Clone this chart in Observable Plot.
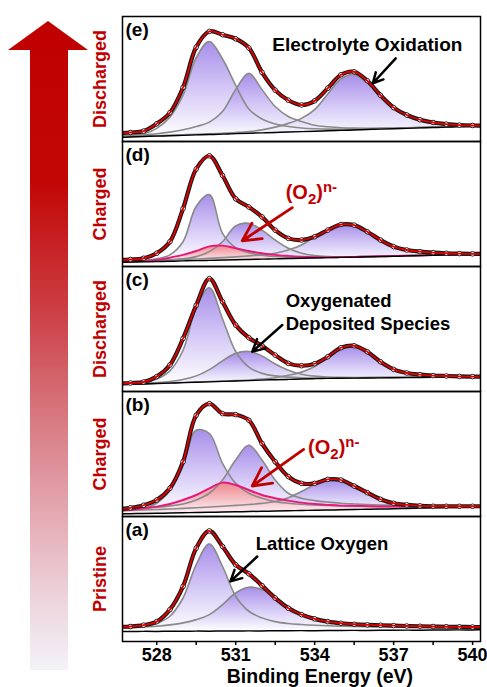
<!DOCTYPE html>
<html><head><meta charset="utf-8">
<script src="https://cdn.jsdelivr.net/npm/d3@7"></script>
<script src="https://cdn.jsdelivr.net/npm/@observablehq/plot@0.6"></script>
<style>
html,body{margin:0;padding:0;background:#fff;}
#wrap{position:relative;width:487px;height:687px;overflow:hidden;}
#arrow{position:absolute;left:0;top:0;}
</style></head><body>
<svg width="0" height="0" style="position:absolute">
 <defs>
  <linearGradient id="gPurple" x1="0" y1="0" x2="0" y2="1">
   <stop offset="0" stop-color="#8a68e2"/>
   <stop offset="0.5" stop-color="#c6b6f3"/>
   <stop offset="1" stop-color="#ffffff"/>
  </linearGradient>
  <linearGradient id="gPink" x1="0" y1="0" x2="0" y2="1">
   <stop offset="0" stop-color="#f37a74"/>
   <stop offset="0.6" stop-color="#f8c0c4"/>
   <stop offset="1" stop-color="#fff0f4"/>
  </linearGradient>
 </defs>
</svg>
<div id="wrap">
<svg id="arrow" width="100" height="687">
 <defs>
  <linearGradient id="gArrow" gradientUnits="userSpaceOnUse" x1="0" y1="20" x2="0" y2="672">
   <stop offset="0" stop-color="#c00000"/>
   <stop offset="0.25" stop-color="#c20606"/>
   <stop offset="0.45" stop-color="#cc4046"/>
   <stop offset="0.62" stop-color="#d97c84"/>
   <stop offset="0.78" stop-color="#e6b0ba"/>
   <stop offset="0.9" stop-color="#eed8e0"/>
   <stop offset="1" stop-color="#f4f3f9"/>
  </linearGradient>
 </defs>
 <polygon points="48,21 88,50 68,50 68,670 30,670 30,50 8,50" fill="url(#gArrow)"/>
</svg>
</div>
<script>
// ---- data (binding energy grid in eV) ----
const energy = [526.5,527,527.5,528,528.5,529,529.5,530,530.5,531,531.5,532,532.5,533,533.5,534,534.5,535,535.5,536,536.5,537,537.5,538,538.5,539,539.5,540,540.5];
const panels = ["e","d","c","b","a"];
const panelTags = ["(e)","(d)","(c)","(b)","(a)"];
const stateLabels = ["Discharged","Charged","Discharged","Charged","Pristine"];
const majorTicks = [528,531,534,537,540];
const allTicks = [528,529.5,531,532.5,534,535.5,537,538.5,540];

// panel (e) discharged
const measuredE = [6.4,7.2,8.3,14.2,23.0,43.2,75.5,88.1,85.4,82.2,74.9,55.3,41.1,33.0,29.2,32.5,42.7,53.4,55.8,48.6,37.0,27.1,21.2,17.4,15.2,13.9,13.1,12.8,12.8];
const backgroundE = [3.3,3.6,4.0,4.3,4.6,4.9,5.3,5.6,5.9,6.3,6.6,6.9,7.2,7.6,7.9,8.2,8.6,8.9,9.2,9.6,9.9,10.2,10.5,10.9,11.2,11.5,11.9,12.2,12.5];
const peakE1 = [4.3,4.8,6.0,10.5,19.5,37.0,67.0,80.0,66.0,45.0,26.0,18.0,14.0,12.0,10.8,10.2,9.9,9.8,9.9,10.1,10.4,10.6,10.9,11.2,11.5,11.8,12.1,12.4,12.7];
const peakE2 = [4.6,4.9,5.4,6.2,7.5,9.4,12.0,15.5,24.0,41.5,54.5,41.5,28.0,20.0,16.0,13.0,11.8,11.0,10.7,10.6,10.7,10.8,11.0,11.3,11.5,11.8,12.1,12.4,12.7];
const peakE3 = [3.8,4.1,4.4,4.7,5.0,5.3,5.7,6.1,6.6,7.2,8.0,9.3,11.5,14.5,18.5,25.5,38.0,50.0,53.5,47.0,35.7,26.1,20.3,16.7,14.6,13.3,12.7,12.4,12.5];

// panel (d) charged
const measuredD = [5.3,5.6,6.6,10.6,19.8,46.3,78.0,88.6,72.8,54.2,47.6,39.7,29.1,22.5,21.2,23.8,29.1,33.6,33.1,27.8,21.2,15.9,13.2,11.9,11.1,10.6,10.3,10.1,10.1];
const backgroundD = [3.3,3.5,3.8,4.0,4.2,4.5,4.7,4.9,5.2,5.4,5.6,5.9,6.1,6.4,6.6,6.8,7.1,7.3,7.5,7.8,8.0,8.2,8.5,8.7,9.0,9.2,9.4,9.7,9.9];
const peakD1 = [3.7,4.0,4.5,6.1,9.3,19.8,48.0,57.5,26.5,15.0,11.0,9.0,8.0,7.5,7.3,7.3,7.5,7.6,7.8,8.1,8.3,8.5,8.8,9.0,9.3,9.5,9.7,10.0,10.2];
const peakD2 = [3.8,4.1,4.5,5.0,5.5,6.1,7.9,11.9,19.8,32.5,34.5,29.1,21.2,14.6,10.6,8.7,7.9,7.7,7.8,8.0,8.2,8.4,8.6,8.9,9.1,9.3,9.6,9.8,10.0];
const superoxideD = [3.7,4.0,4.5,5.3,7.1,9.3,12.4,16.1,16.7,14.6,12.4,10.6,9.3,8.5,7.9,7.5,7.4,7.5,7.6,7.9,8.1,8.3,8.6,8.8,9.1,9.3,9.5,9.8,10.0];
const peakD4 = [3.7,4.0,4.4,4.8,5.2,5.6,6.0,6.5,7.1,7.7,8.5,9.3,10.6,13.2,17.2,23.8,29.9,33.3,32.5,27.2,20.6,15.6,13.0,11.6,10.8,10.3,10.1,10.1,10.1];

// panel (c) discharged
const measuredC = [6.3,6.8,7.6,11.9,21.2,42.4,69.0,90.3,71.8,53.1,43.0,36.6,29.1,22.5,20.6,22.2,27.8,35.0,36.6,31.8,23.8,17.7,14.8,13.5,12.7,12.4,12.1,11.9,11.9];
const backgroundC = [5.4,5.7,6.0,6.4,6.7,7.1,7.4,7.7,8.1,8.4,8.7,9.1,9.4,9.7,10.0,10.3,10.5,10.6,10.7,10.8,10.9,11.0,11.1,11.2,11.3,11.4,11.5,11.6,11.7];
const peakC1 = [6.2,6.6,7.6,10.0,16.5,33.0,67.0,83.0,58.0,32.0,19.5,14.5,12.5,11.5,11.0,10.8,10.8,10.9,11.0,11.1,11.2,11.3,11.4,11.5,11.6,11.7,11.8,11.9,12.0];
const peakC2 = [5.8,6.1,6.5,7.1,8.0,9.6,12.5,17.5,24.5,30.5,32.0,28.5,22.0,17.0,13.8,12.3,11.6,11.3,11.2,11.2,11.3,11.4,11.5,11.6,11.7,11.8,11.9,12.0,12.1];
const peakC3 = [5.8,6.0,6.3,6.6,6.9,7.2,7.6,8.0,8.3,8.7,9.2,10.0,11.0,13.0,15.5,20.0,27.5,34.0,35.5,30.5,23.0,17.0,14.2,12.9,12.2,11.9,11.8,11.8,11.9];

// panel (b) charged
const measuredB = [5.8,6.9,9.0,13.2,22.5,43.8,81.0,90.3,82.3,81.5,77.0,58.4,43.8,31.9,26.5,26.5,29.7,29.2,24.4,19.1,13.8,10.6,9.3,8.5,8.2,8.2,8.2,8.2,8.2];
const backgroundB = [2.0,2.2,2.4,2.6,2.8,3.0,3.2,3.4,3.6,3.8,4.0,4.2,4.4,4.6,4.8,5.0,5.2,5.4,5.6,5.8,6.0,6.2,6.4,6.7,6.9,7.1,7.3,7.5,7.7];
const peakB1 = [5.0,5.3,6.6,10.6,21.2,42.5,69.0,66.4,42.5,26.5,18.6,14.6,11.9,10.6,9.8,9.2,8.8,8.5,8.3,8.2,8.1,8.0,8.0,8.0,8.0,8.0,8.0,8.0,8.0];
const peakB2 = [5.6,6.0,6.6,7.4,8.5,10.0,13.2,18.6,29.2,45.2,57.0,45.2,29.2,18.6,14.6,12.7,11.5,10.6,10.0,9.5,9.2,9.0,8.8,8.7,8.6,8.5,8.4,8.4,8.3];
const superoxideB = [4.7,5.3,6.6,7.9,10.0,13.2,17.2,22.5,27.1,25.2,21.2,17.2,14.6,12.7,11.1,10.0,9.3,8.7,8.5,8.2,8.0,8.0,8.0,8.0,8.0,8.0,8.0,8.0,8.0];
const peakB4 = [4.5,4.8,5.2,5.6,6.0,6.5,7.0,7.6,8.2,8.9,9.6,10.5,12.0,15.0,20.0,25.5,29.0,28.0,23.3,18.0,13.2,10.6,9.3,8.5,8.2,8.1,8.0,8.0,8.0];

// panel (a) pristine
const measuredA = [11.8,12.0,13.1,15.9,25.5,44.1,74.7,88.5,76.0,61.4,54.2,44.7,34.8,26.6,21.5,18.1,15.9,14.6,13.8,13.3,13.0,12.7,12.4,12.2,12.0,11.8,11.7,11.6,11.6];
const backgroundA = [8.0,8.0,8.1,8.1,8.2,8.2,8.3,8.3,8.4,8.4,8.5,8.5,8.6,8.6,8.7,8.7,8.8,8.8,8.9,8.9,9.0,9.0,9.1,9.1,9.2,9.2,9.3,9.3,9.4];
const peakA1 = [11.0,11.3,12.0,14.4,20.2,34.8,61.4,78.0,60.0,36.2,24.2,18.9,15.9,14.4,13.6,13.0,12.6,12.3,12.1,11.9,11.8,11.7,11.6,11.5,11.4,11.4,11.3,11.3,11.3];
const peakA2 = [11.0,11.2,11.7,12.2,13.3,14.9,17.5,21.5,29.5,38.8,43.4,41.5,35.6,28.2,22.3,18.6,16.2,14.9,14.1,13.6,13.2,12.6,12.3,12.0,11.8,11.6,11.5,11.4,11.4];

// annotations (x in eV, y in panel intensity units)
const centeredNotes = [
  {panel:"e", E:536.0, v:77, text:"Electrolyte Oxidation"}
];
const leftNotes = [
  {panel:"c", E:532.9, v:64, text:"Oxygenated\nDeposited Species"},
  {panel:"a", E:531.76, v:79, text:"Lattice Oxygen"}
];
const redNotes = [
  {panel:"d", E:532.9, v:59, text:"(O2)n-"},
  {panel:"b", E:533.75, v:55.5, text:"(O2)n-"}
];
const pointers = [
  {panel:"e", E1:537.08, v1:66.5, E2:536.21, v2:46.6, red:false},
  {panel:"d", E1:533.15, v1:47.1, E2:531.25, v2:20.6, red:true},
  {panel:"c", E1:532.77, v1:53.2, E2:531.63, v2:31.9, red:false},
  {panel:"b", E1:533.58, v1:53.7, E2:531.63, v2:24.4, red:true},
  {panel:"a", E1:531.82, v1:68, E2:530.8, v2:48.1, red:false}
];
const axisTitle = [{panel:"a", E:534.2, label:"Binding Energy (eV)"}];

// ---- build tables ----
const measured = {e:measuredE, d:measuredD, c:measuredC, b:measuredB, a:measuredA};
const background = {e:backgroundE, d:backgroundD, c:backgroundC, b:backgroundB, a:backgroundA};
const components = [
  {panel:"e", id:"e1", vals:peakE1, pink:false},
  {panel:"e", id:"e2", vals:peakE2, pink:false},
  {panel:"e", id:"e3", vals:peakE3, pink:false},
  {panel:"d", id:"d1", vals:peakD1, pink:false},
  {panel:"d", id:"d2", vals:peakD2, pink:false},
  {panel:"d", id:"d4", vals:peakD4, pink:false},
  {panel:"d", id:"dO", vals:superoxideD, pink:true},
  {panel:"c", id:"c1", vals:peakC1, pink:false},
  {panel:"c", id:"c2", vals:peakC2, pink:false},
  {panel:"c", id:"c3", vals:peakC3, pink:false},
  {panel:"b", id:"b1", vals:peakB1, pink:false},
  {panel:"b", id:"b2", vals:peakB2, pink:false},
  {panel:"b", id:"b4", vals:peakB4, pink:false},
  {panel:"b", id:"bO", vals:superoxideB, pink:true},
  {panel:"a", id:"a1", vals:peakA1, pink:false},
  {panel:"a", id:"a2", vals:peakA2, pink:false}
];
const compRows = [];
components.forEach(c => c.vals.forEach((v,i) => compRows.push({panel:c.panel, id:c.id, pink:c.pink, E:energy[i], v, bg:background[c.panel][i]})));
const purpleRows = compRows.filter(d => !d.pink);
const pinkRows = compRows.filter(d => d.pink);
const measRows = [], bgRows = [];
panels.forEach(p => {
  measured[p].forEach((v,i) => measRows.push({panel:p, E:energy[i], v}));
  background[p].forEach((v,i) => bgRows.push({panel:p, E:energy[i], v}));
});
const tagRows = panels.map((p,i) => ({panel:p, tag:panelTags[i], state:stateLabels[i]}));

const RED = "#c00000";
const curve = "catmull-rom";
const font = "'Liberation Sans', Arial, Helvetica, sans-serif";

const chart = Plot.plot({
  width: 487, height: 687,
  marginLeft: 122, marginRight: 7, marginTop: 15, marginBottom: 45,
  style: {fontFamily: font, background: "transparent", overflow: "visible"},
  x: {domain: [526.7, 540.3], axis: null},
  y: {domain: [0, 100], axis: null},
  fy: {domain: panels, axis: null, padding: 0},
  marks: [
    Plot.areaY(purpleRows, {x:"E", y1:"bg", y2:"v", z:"id", fy:"panel", fill:"url(#gPurple)", fillOpacity:0.75, curve, clip:true}),
    Plot.areaY(pinkRows, {x:"E", y1:"bg", y2:"v", z:"id", fy:"panel", fill:"url(#gPink)", fillOpacity:0.85, curve, clip:true}),
    Plot.line(purpleRows, {x:"E", y:"v", z:"id", fy:"panel", stroke:"#8a8a8a", strokeWidth:1.6, curve, clip:true}),
    Plot.line(pinkRows, {x:"E", y:"v", z:"id", fy:"panel", stroke:"#e8197d", strokeWidth:2, curve, clip:true}),
    Plot.line(bgRows, {x:"E", y:"v", fy:"panel", stroke:"#000", strokeWidth:1.5, curve, clip:true}),
    Plot.line(measRows, {x:"E", y:"v", fy:"panel", stroke:"#1a1a1a", strokeWidth:4.2, curve, clip:true}),
    Plot.dot(measRows, {x:"E", y:"v", fy:"panel", r:2.3, stroke:"#111", fill:"#fff", strokeWidth:0.9, clip:true}),
    Plot.line(measRows, {x:"E", y:"v", fy:"panel", stroke:"#e00000", strokeWidth:1.8, curve, clip:true}),
    Plot.frame({stroke:"#000", strokeWidth:1.5}),
    Plot.axisX({ticks: allTicks, tickFormat: d => majorTicks.includes(d) ? String(d) : "", tickSize: 4, tickPadding: 3, fontSize: 18, fontWeight: "bold", fill: "#000", strokeWidth: 1.5, label: null}),
    Plot.text(axisTitle, {x:"E", fy:"panel", text:"label", frameAnchor:"bottom", lineAnchor:"middle", dy:35, fontSize:19.5, fontWeight:"bold", fill:"#000"}),
    Plot.text(tagRows, {fy:"panel", text:"tag", frameAnchor:"top-left", dx:3, dy:6, fontSize:19, fontWeight:"bold", fill:"#000"}),
    Plot.text(tagRows, {fy:"panel", text:"state", frameAnchor:"left", textAnchor:"middle", lineAnchor:"middle", rotate:-90, dx:-22, fontSize:18, fontWeight:"bold", fill:RED}),
    Plot.text(centeredNotes, {x:"E", y:"v", fy:"panel", text:"text", textAnchor:"middle", fontSize:19, fontWeight:"bold", fill:"#000"}),
    Plot.text(leftNotes, {x:"E", y:"v", fy:"panel", text:"text", textAnchor:"start", fontSize:18.5, fontWeight:"bold", fill:"#000", lineHeight:1.25}),
    Plot.text(redNotes, {x:"E", y:"v", fy:"panel", text:"text", textAnchor:"start", fontSize:20, fontWeight:"bold", fill:RED}),
    Plot.arrow(pointers.filter(d => !d.red), {x1:"E1", y1:"v1", x2:"E2", y2:"v2", fy:"panel", stroke:"#000", strokeWidth:2.5, headLength:10, headAngle:55}),
    Plot.arrow(pointers.filter(d => d.red), {x1:"E1", y1:"v1", x2:"E2", y2:"v2", fy:"panel", stroke:RED, strokeWidth:2.8, headLength:11, headAngle:55})
  ]
});

// superscript / subscript formatting for (O2)n-
chart.querySelectorAll("text").forEach(t => {
  if (t.textContent === "(O2)n-") {
    const ns = "http://www.w3.org/2000/svg";
    t.textContent = "(O";
    const sub = document.createElementNS(ns, "tspan");
    sub.setAttribute("dy", "5"); sub.setAttribute("font-size", "15"); sub.textContent = "2";
    const close = document.createElementNS(ns, "tspan");
    close.setAttribute("dy", "-5"); close.textContent = ")";
    const sup = document.createElementNS(ns, "tspan");
    sup.setAttribute("dy", "-7"); sup.setAttribute("font-size", "15"); sup.textContent = "n-";
    t.append(sub, close, sup);
  }
});
document.getElementById("wrap").prepend(chart);
</script>
</body></html>
